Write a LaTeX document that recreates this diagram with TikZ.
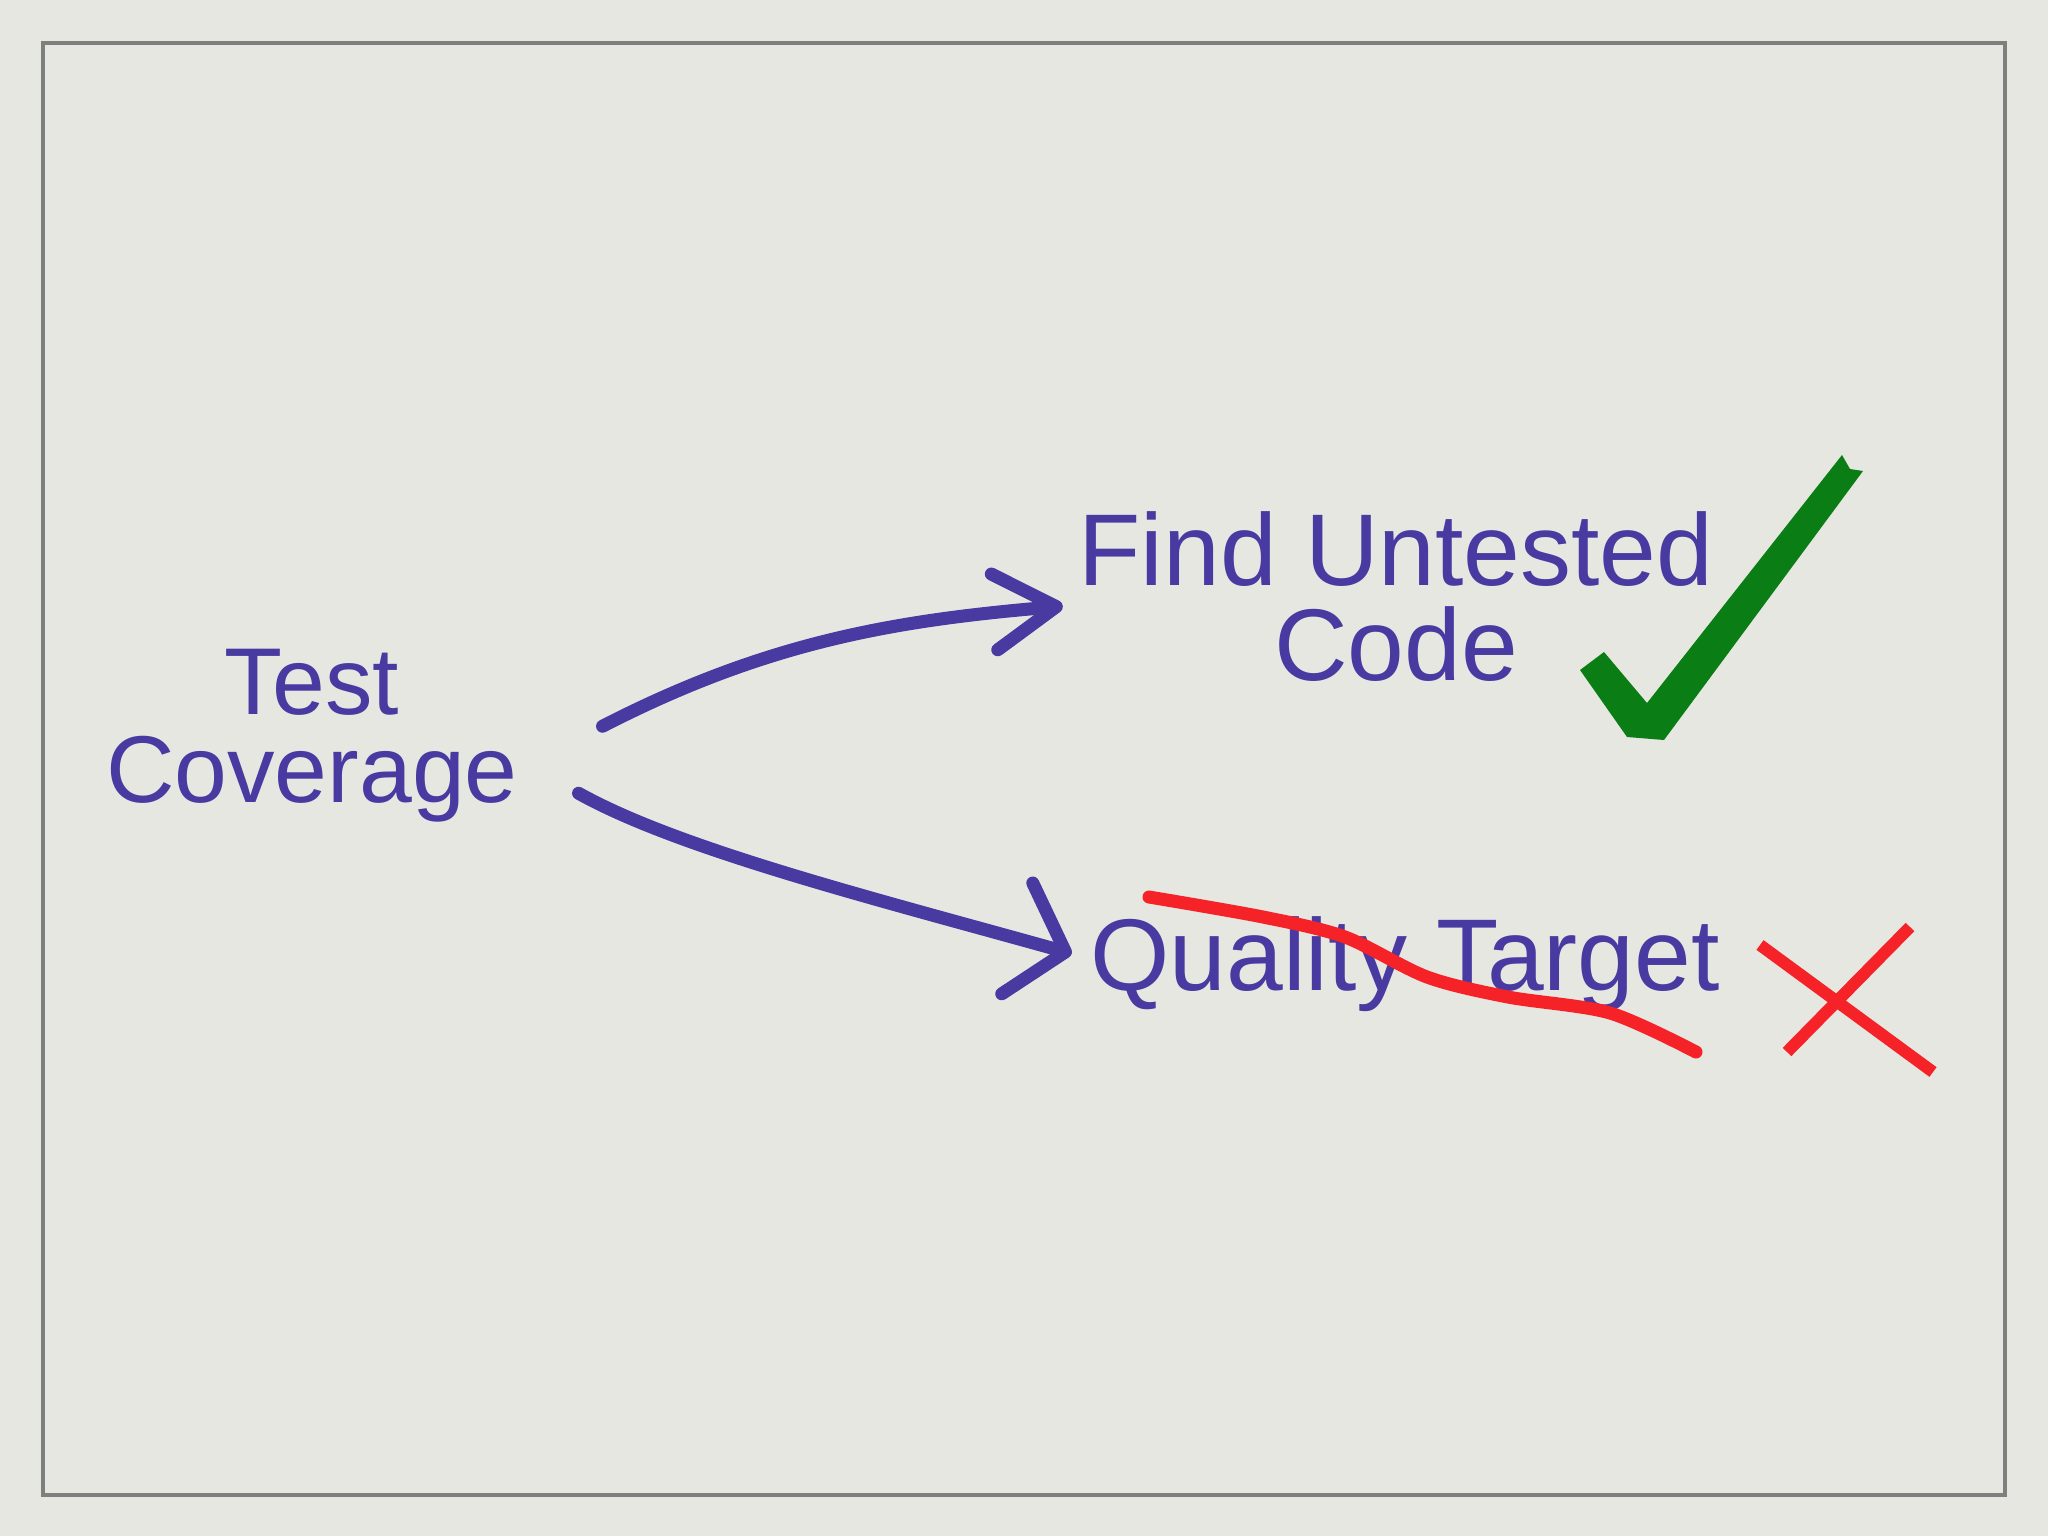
\documentclass[tikz,border=0pt]{standalone}
\usepackage{fontspec}
\setmainfont{Liberation Sans}
\usetikzlibrary{arrows.meta,calc}
\definecolor{paper}{RGB}{231,231,226}
\definecolor{frame}{RGB}{125,128,125}
\definecolor{ink}{RGB}{72,58,160}
\definecolor{okgreen}{RGB}{10,125,20}
\definecolor{nored}{RGB}{245,35,40}
\begin{document}
\begin{tikzpicture}[x=0.01cm,y=-0.01cm,
  hand/.style={text=ink,align=center,inner sep=0pt,anchor=base},
  pen/.style={draw=ink,line width=0.13cm,line cap=round,line join=round}]
\fill[paper] (0,0) rectangle (2048,1536);
\draw[frame,line width=0.04cm] (43,43) rectangle (2005,1495);
\node[hand,font=\fontsize{27}{25}\selectfont] (tc) at (312,802) {Test\\Coverage};
\node[hand,font=\fontsize{29}{27}\selectfont] (fuc) at (1396,680) {Find Untested\\Code};
\node[hand,font=\fontsize{29}{23}\selectfont] (qt) at (1405,990) {Quality Target};
\draw[pen,-{Straight Barb[round,length=0.62cm,width=0.76cm]}] ($(tc.east)+(84,-9)$) .. controls (770,640) and (900,620) .. ($(fuc.west)+(-15,10)$);
\draw[pen,-{Straight Barb[round,length=0.5cm,width=1.15cm]}] ($(tc.east)+(60,58)$) .. controls (680,850) and (880,900) .. ($(qt.west)+(-18,-10)$);
\fill[okgreen] (1580,670)--(1604,652)--(1647,703)--(1842,455)--(1850,469)--(1863,471)--(1664,740)--(1627,737)--cycle;
\draw[nored,line width=0.13cm,line cap=round] plot[smooth] coordinates {(1149,897) (1263,917) (1345,937) (1427,977) (1508,997) (1610,1013) (1696,1052)};
\draw[nored,line width=0.12cm] (1760,945)--(1933,1072);
\draw[nored,line width=0.12cm] (1910,927)--(1787,1052);
\end{tikzpicture}
\end{document}
